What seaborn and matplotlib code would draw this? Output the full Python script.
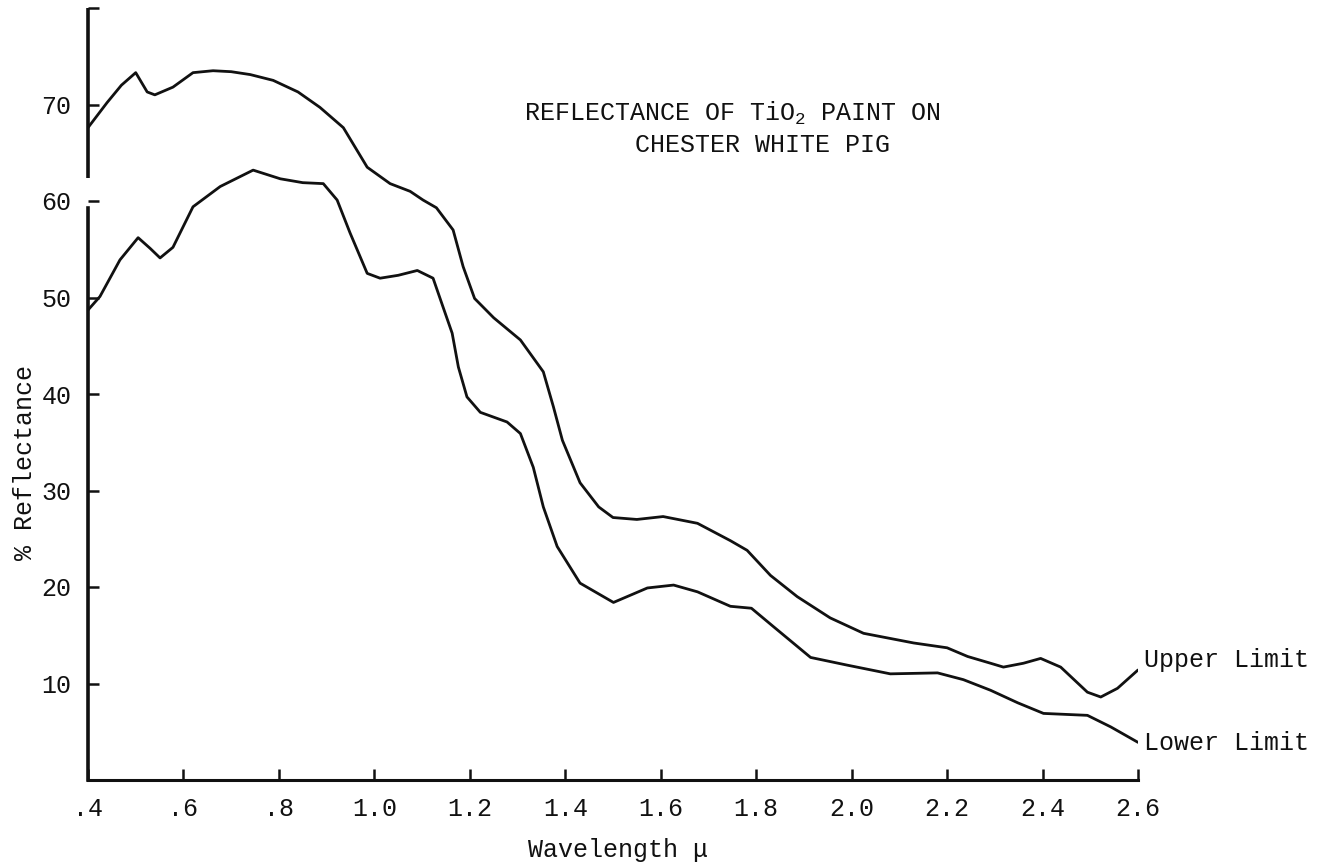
import numpy as np
import pandas as pd
import matplotlib
matplotlib.use("Agg")
import matplotlib.pyplot as plt
import seaborn as sns

# ---- data ----
upper_x = [0.40, 0.44, 0.47, 0.50, 0.524, 0.54, 0.578, 0.62, 0.662, 0.70, 0.74, 0.788,
           0.84, 0.886, 0.935, 0.985, 1.033, 1.075, 1.102, 1.13, 1.165, 1.186, 1.21,
           1.25, 1.306, 1.354, 1.375, 1.394, 1.431, 1.47, 1.50, 1.55, 1.605, 1.677,
           1.746, 1.781, 1.83, 1.886, 1.955, 2.025, 2.13, 2.20, 2.243, 2.291, 2.318,
           2.36, 2.396, 2.438, 2.494, 2.522, 2.557, 2.60]
upper_y = [67.6, 70.2, 72.0, 73.3, 71.3, 71.0, 71.8, 73.3, 73.5, 73.4, 73.1, 72.5,
           71.3, 69.7, 67.6, 63.5, 61.8, 61.0, 60.1, 59.3, 57.0, 53.2, 49.9,
           47.9, 45.6, 42.3, 38.7, 35.2, 30.8, 28.3, 27.2, 27.0, 27.3, 26.6,
           24.8, 23.8, 21.2, 19.0, 16.8, 15.2, 14.2, 13.7, 12.8, 12.1, 11.7,
           12.1, 12.6, 11.7, 9.1, 8.6, 9.5, 11.4]

lower_x = [0.40, 0.425, 0.467, 0.505, 0.53, 0.551, 0.578, 0.62, 0.677, 0.746, 0.803,
           0.85, 0.893, 0.922, 0.949, 0.985, 1.012, 1.05, 1.09, 1.123, 1.144, 1.163,
           1.176, 1.194, 1.222, 1.278, 1.306, 1.333, 1.354, 1.383, 1.431, 1.501,
           1.572, 1.627, 1.677, 1.746, 1.79, 1.836, 1.914, 1.991, 2.081, 2.18, 2.234,
           2.291, 2.348, 2.402, 2.494, 2.543, 2.60]
lower_y = [48.7, 50.1, 53.9, 56.2, 55.1, 54.1, 55.2, 59.4, 61.5, 63.2, 62.3,
           61.9, 61.8, 60.1, 56.7, 52.5, 52.0, 52.3, 52.8, 52.0, 49.0, 46.3,
           42.8, 39.7, 38.1, 37.1, 35.9, 32.4, 28.3, 24.2, 20.4, 18.4,
           19.9, 20.2, 19.5, 18.0, 17.8, 15.9, 12.7, 11.9, 11.0, 11.1, 10.4,
           9.3, 8.0, 6.9, 6.7, 5.5, 3.9]

x_ticks = [0.4, 0.6, 0.8, 1.0, 1.2, 1.4, 1.6, 1.8, 2.0, 2.2, 2.4, 2.6]
x_ticklabels = [".4", ".6", ".8", "1.0", "1.2", "1.4", "1.6", "1.8", "2.0", "2.2", "2.4", "2.6"]
y_ticks = [10, 20, 30, 40, 50, 60, 70, 80]
y_ticklabels = ["10", "20", "30", "40", "50", "60", "70", ""]

df = pd.concat([
    pd.DataFrame({"wavelength": upper_x, "reflectance": upper_y, "limit": "Upper Limit"}),
    pd.DataFrame({"wavelength": lower_x, "reflectance": lower_y, "limit": "Lower Limit"}),
])

# ---- style ----
sns.set_style("white")
FONT = ["Liberation Mono", "DejaVu Sans Mono", "DejaVu Sans"]
plt.rcParams["font.family"] = FONT
plt.rcParams["mathtext.fontset"] = "custom"
plt.rcParams["mathtext.rm"] = "Liberation Mono"
plt.rcParams["mathtext.it"] = "Liberation Mono"
FS = 18
INK = "#111111"

W, H = 1327, 867
fig = plt.figure(figsize=(W / 100, H / 100), dpi=100)
ax_left, ax_right, ax_top, ax_bot = 88, 1138, 8, 780
ax = fig.add_axes([ax_left / W, 1 - ax_bot / H, (ax_right - ax_left) / W, (ax_bot - ax_top) / H])

sns.lineplot(data=df, x="wavelength", y="reflectance", hue="limit",
             palette={"Upper Limit": INK, "Lower Limit": INK},
             estimator=None, sort=True, legend=False, linewidth=2.0, ax=ax)

ax.set_xlim(0.4, 2.6)
ax.set_ylim(0, 80)
ax.set_xticks(x_ticks)
ax.set_xticklabels(x_ticklabels, fontsize=FS)
ax.set_yticks(y_ticks)
ax.set_yticklabels(y_ticklabels, fontsize=FS)
ax.tick_params(axis="both", which="major", bottom=True, left=True, direction="in",
               length=8, width=1.8, color=INK, labelcolor=INK)
ax.tick_params(axis="x", pad=12)
ax.tick_params(axis="y", pad=12)
ax.set_xlabel("")
ax.set_ylabel("")

for s in ["top", "right"]:
    ax.spines[s].set_visible(False)
ax.spines["bottom"].set_linewidth(2.2)
ax.spines["bottom"].set_color(INK)
ax.spines["left"].set_linewidth(2.6)
ax.spines["left"].set_color(INK)
# the scanned axis shows a small break just above 60
ax.spines["left"].set_bounds(0, 59.3)
ax.plot([0.4, 0.4], [62.4, 80], color=INK, lw=2.6, clip_on=False,
        solid_capstyle="butt")

# ---- texts ----
ax.text(1.314, 69.1, "REFLECTANCE OF TiO$_2$ PAINT ON", fontsize=FS, va="center",
        ha="left", color=INK)
ax.text(1.547, 65.8, "CHESTER WHITE PIG", fontsize=FS, va="center", ha="left",
        color=INK)
ax.text(2.612, 12.4, "Upper Limit", fontsize=FS, va="center", ha="left",
        color=INK, clip_on=False)
ax.text(2.612, 3.8, "Lower Limit", fontsize=FS, va="center", ha="left",
        color=INK, clip_on=False)

fig.text(618 / W, 1 - 850 / H, "Wavelength \u03bc", fontsize=FS, ha="center",
         va="center", color=INK)
fig.text(25 / W, 1 - 463 / H, "% Reflectance", fontsize=FS, ha="center",
         va="center", rotation=90, color=INK)

fig.savefig("out.png", dpi=100, facecolor="white")
